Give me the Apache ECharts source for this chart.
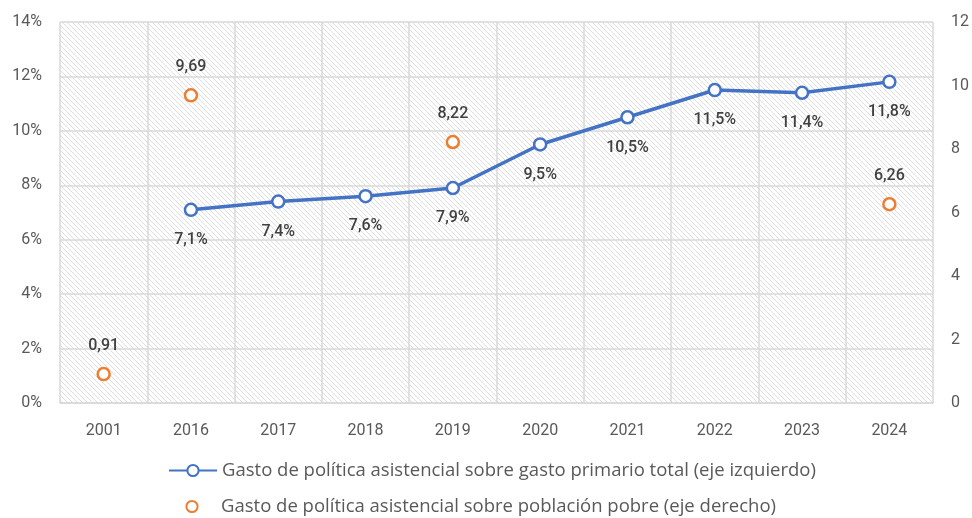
<!DOCTYPE html>
<html>
<head>
<meta charset="utf-8">
<script src="https://cdn.jsdelivr.net/npm/echarts@6/dist/echarts.min.js"></script>
<style>
  html, body { margin: 0; padding: 0; background: #fff; }
  #chart { width: 972px; height: 518px; }
</style>
</head>
<body>
<div id="chart"></div>
<script>
const years = ["2001", "2016", "2017", "2018", "2019", "2020", "2021", "2022", "2023", "2024"];
// % del gasto primario total (eje izquierdo)
const gastoPrimario = [null, 7.1, 7.4, 7.6, 7.9, 9.5, 10.5, 11.5, 11.4, 11.8];
// sobre población pobre (eje derecho)
const gastoPobre = [0.91, 9.69, null, null, 8.22, null, null, null, null, 6.26];

const nombrePrimario = "Gasto de política asistencial sobre gasto primario total (eje izquierdo)";
const nombrePobre = "Gasto de política asistencial sobre población pobre (eje derecho)";

// fondo rayado del área de trazado
function hatch() {
  const s = 5;
  const c = document.createElement("canvas");
  c.width = s; c.height = s;
  const ctx = c.getContext("2d");
  ctx.fillStyle = "#ffffff";
  ctx.fillRect(0, 0, s, s);
  ctx.strokeStyle = "#dedede";
  ctx.lineWidth = 1;
  ctx.beginPath();
  ctx.moveTo(0, 0); ctx.lineTo(s, s);
  ctx.moveTo(-s, 0); ctx.lineTo(s, 2 * s);
  ctx.moveTo(0, -s); ctx.lineTo(2 * s, s);
  ctx.stroke();
  return c;
}

const fmt = v => String(v).replace(".", ",");
const font = "Roboto";
const legendText = { fontFamily: "Open Sans", fontSize: 18.5, color: "#595959" };

const myChart = echarts.init(document.getElementById("chart"));

let option = {
  animation: false,
  textStyle: { fontFamily: font },
  grid: {
    left: 60, right: 35, top: 22, bottom: 115,
    show: true,
    borderWidth: 0,
    backgroundColor: { image: hatch(), repeat: "repeat" }
  },
  legend: [{
    left: 168, top: 461, padding: 0,
    itemWidth: 48, itemHeight: 14,
    textStyle: legendText,
    data: [nombrePrimario]
  }, {
    left: 168, top: 497, padding: 0,
    itemWidth: 48, itemHeight: 14,
    textStyle: legendText,
    data: [nombrePobre]
  }],
  xAxis: {
    type: "category",
    data: years,
    axisLine: { lineStyle: { color: "#d9d9d9", width: 1.5 } },
    axisTick: { show: false },
    axisLabel: { color: "#595959", fontSize: 16, margin: 20 },
    splitLine: { show: true, lineStyle: { color: "#d9d9d9", width: 1.5 } }
  },
  yAxis: [{
    type: "value",
    min: 0, max: 14, interval: 2,
    axisLine: { show: false },
    axisTick: { show: false },
    axisLabel: { color: "#595959", fontSize: 16, margin: 18, formatter: "{value}%" },
    splitLine: { lineStyle: { color: "#d9d9d9", width: 1.5 } }
  }, {
    type: "value",
    min: 0, max: 12, interval: 2,
    axisLine: { show: false },
    axisTick: { show: false },
    axisLabel: { color: "#595959", fontSize: 16, margin: 18 },
    splitLine: { show: false }
  }],
  series: [{
    name: nombrePrimario,
    type: "line",
    yAxisIndex: 0,
    data: gastoPrimario,
    lineStyle: { width: 3.5, color: "#4472C4" },
    symbol: "circle",
    symbolSize: 12,
    itemStyle: { color: "#ffffff", borderColor: "#4472C4", borderWidth: 2.5 },
    label: {
      show: true, position: "bottom", distance: 15,
      fontSize: 16, fontWeight: 500, color: "#404040",
      formatter: p => fmt(p.value) + "%"
    },
    z: 3
  }, {
    name: nombrePobre,
    type: "line",
    yAxisIndex: 1,
    data: gastoPobre,
    lineStyle: { width: 0, color: "#ED7D31" },
    symbol: "circle",
    symbolSize: 12,
    itemStyle: { color: "#ffffff", borderColor: "#ED7D31", borderWidth: 2.5 },
    label: {
      show: true, position: "top", distance: 13,
      fontSize: 16, fontWeight: 500, color: "#404040",
      formatter: p => fmt(p.value)
    },
    z: 3
  }]
};

myChart.setOption(option);
</script>
</body>
</html>
